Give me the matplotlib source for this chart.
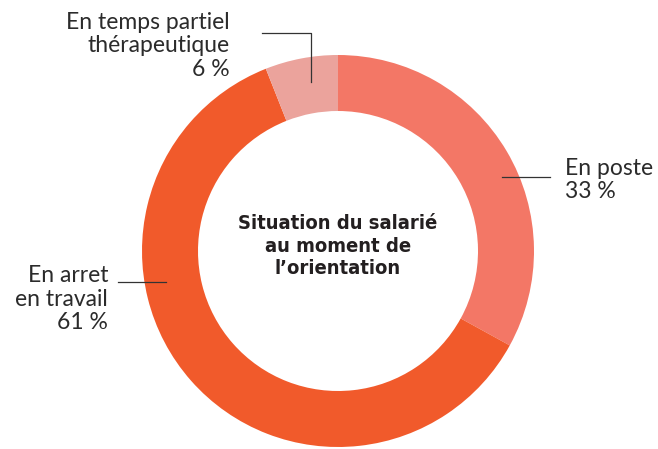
import matplotlib
matplotlib.use('Agg')
import matplotlib.pyplot as plt

# ── Data ─────────────────────────────────────────────────────
categories = ["En poste", "En arret\nen travail", "En temps partiel\nthérapeutique"]
values = [33, 61, 6]
colors = ["#F37766", "#F15A2B", "#EBA39C"]
center_title = "Situation du salarié\nau moment de\nl\u2019orientation"

W, H = 658, 449
fig = plt.figure(figsize=(W / 100, H / 100), dpi=100)
ax = fig.add_axes([0, 0, 1, 1])

cx, cy, r = 338, H - 251, 196
ax.pie(values, colors=colors, startangle=90, counterclock=False,
       radius=r, center=(cx, cy), frame=True,
       wedgeprops=dict(width=56, edgecolor='none'))
ax.set_xlim(0, W)
ax.set_ylim(0, H)
ax.set_aspect('equal')
ax.axis('off')

ax.text(cx, H - 246, center_title, ha='center', va='center', fontsize=14.5,
        fontweight='bold', family='DejaVu Sans', fontstretch='condensed',
        color='#231F20', linespacing=1.22)

lab_kw = dict(fontsize=16.5, family='Lato', fontweight='normal', color='#2B2B2B',
              linespacing=1.17)
line_kw = dict(color='#333333', lw=0.9)

# En poste
ax.plot([502, 550], [H - 177, H - 177], **line_kw)
ax.text(565, H - 180, f"{categories[0]}\n{values[0]} %", ha='left', va='center', **lab_kw)

# En arret
ax.plot([118, 166], [H - 282, H - 282], **line_kw)
ax.text(108, H - 299, f"{categories[1]}\n{values[1]} %", ha='right', va='center',
        multialignment='right', **lab_kw)

# Temps partiel
ax.plot([262, 311, 311], [H - 33, H - 33, H - 82], **line_kw)
ax.text(230, H - 46, f"{categories[2]}\n{values[2]} %", ha='right', va='center',
        multialignment='right', **lab_kw)

fig.savefig("out.png", dpi=100, facecolor='white')
